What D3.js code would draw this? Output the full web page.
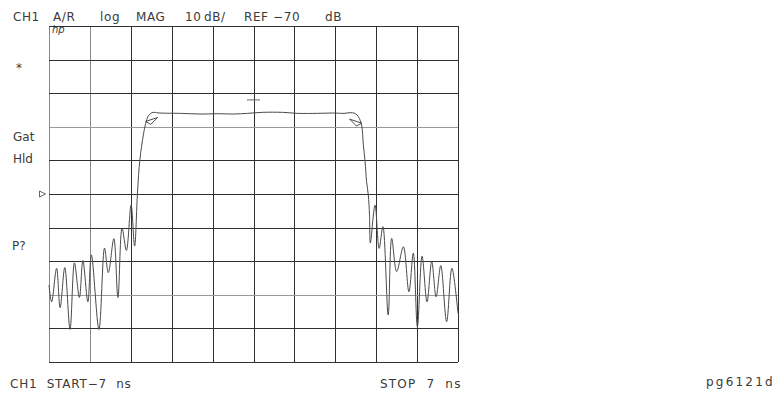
<!DOCTYPE html>
<html>
<head>
<meta charset="utf-8">
<script src="https://cdn.jsdelivr.net/npm/d3@7"></script>
<style>
  html, body { margin: 0; padding: 0; background: #fff; }
  svg { display: block; }
  text { font-family: "DejaVu Sans", sans-serif; fill: #3a3a3a; }
</style>
</head>
<body>
<script>
// ---- data ----
const timeNs = [
  -7.00, -6.91, -6.74, -6.62, -6.46, -6.28, -6.13, -5.96, -5.84, -5.67,
  -5.55, -5.29, -5.10, -4.97, -4.78, -4.64, -4.50, -4.35, -4.19, -4.07,
  -3.97, -3.89, -3.77, -3.69, -3.61, -3.48, -3.40, -3.20, -2.50, -1.80,
  -1.20, -0.70, -0.20, 0.30, 1.00, 1.50, 2.20, 2.70, 3.10, 3.30,
  3.47, 3.59, 3.70, 3.76, 3.82, 3.87, 3.93, 3.97, 4.00, 4.16,
  4.30, 4.43, 4.61, 4.73, 4.90, 5.13, 5.32, 5.47, 5.61, 5.77,
  5.94, 6.10, 6.25, 6.41, 6.61, 6.79, 7.00
];
const magDb = [
  -97.1, -102.1, -92.1, -103.8, -91.9, -110.3, -90.5, -100.8, -89.8, -102.1,
  -88.1, -110.3, -86.1, -93.4, -83.3, -100.8, -80.2, -86.8, -73.3, -85.5,
  -69.4, -59.9, -52.4, -49.0, -46.9, -45.8, -45.7, -45.9, -46.0, -46.2,
  -46.1, -46.2, -46.0, -45.7, -45.7, -46.0, -46.0, -45.9, -46.0, -45.8,
  -46.0, -47.0, -49.5, -55.4, -60.4, -66.3, -70.3, -76.2, -84.6, -73.3,
  -86.2, -79.7, -106.0, -83.2, -93.1, -85.7, -99.1, -87.6, -109.5, -88.5,
  -102.1, -90.1, -100.6, -91.3, -108.0, -92.1, -105.5
];
const xTicks = [-7, -5.6, -4.2, -2.8, -1.4, 0, 1.4, 2.8, 4.2, 5.6, 7];
const yTicks = [-120, -110, -100, -90, -80, -70, -60, -50, -40, -30, -20];
const refLevel = -70;
const markerTimes = [-3.69, 3.70];
const markerMags = [-49.0, -49.5];
const centerMarker = { t: 0, db: -42.0 };
const headerTokens = ["CH1", "A/R", "log", "MAG", "10", "dB/", "REF", "\u221270", "dB"];
const sideLabels = ["*", "Gat", "Hld", "P?"];
const startLabel = "CH1  START\u22127  ns";
const stopLabel = "STOP  7  ns";
const figId = "pg6121d";

// ---- layout ----
const W = 781, H = 396;
const L = 49, R = 458, T = 26, B = 362;

const svg = d3.select("body").append("svg").attr("width", W).attr("height", H);

const x = d3.scaleLinear().domain([-7, 7]).range([L, R]);
const y = d3.scaleLinear().domain([-120, -20]).range([B, T]);

// grid via axes
const gx = svg.append("g").attr("transform", `translate(0,${B})`)
  .call(d3.axisBottom(x).tickValues(xTicks).tickSize(-(B - T)).tickFormat(""));
const gy = svg.append("g").attr("transform", `translate(${L},0)`)
  .call(d3.axisLeft(y).tickValues(yTicks).tickSize(-(R - L)).tickFormat(""));
[gx, gy].forEach(g => { g.select(".domain").remove(); });
gx.selectAll(".tick line").attr("stroke", (d, i) => (i === 0 || i === 1) ? "#8a8a8a" : "#303030").attr("stroke-width", 1);
gy.selectAll(".tick line").attr("stroke", d => (d === -50 || d === -100) ? "#9a9a9a" : "#303030").attr("stroke-width", 1);
gx.selectAll(".tick line").attr("shape-rendering", "crispEdges");
gy.selectAll(".tick line").attr("shape-rendering", "crispEdges");

// trace
const line = d3.line().x((d, i) => x(timeNs[i])).y((d, i) => y(magDb[i])).curve(d3.curveCatmullRom.alpha(0.5));
svg.append("path").datum(magDb).attr("d", line)
  .attr("fill", "none").attr("stroke", "#4a4a4a").attr("stroke-width", 1);

// markers (small triangles at band edges)
markerTimes.forEach((t, i) => {
  const px = x(t), py = y(markerMags[i]);
  const s = i === 0 ? 1 : -1;
  svg.append("path")
    .attr("d", `M${px},${py - 2}L${px + s * 12},${py - 6}L${px + s * 5},${py + 1}Z`)
    .attr("fill", "none").attr("stroke", "#4a4a4a").attr("stroke-width", 1);
});
// center marker dash
svg.append("line")
  .attr("x1", x(centerMarker.t) - 6.5).attr("x2", x(centerMarker.t) + 6.5)
  .attr("y1", y(centerMarker.db)).attr("y2", y(centerMarker.db))
  .attr("stroke", "#666").attr("stroke-width", 1);

// reference position marker
const ry = y(refLevel);
svg.append("path")
  .attr("d", `M39.5,${ry - 3}L45.5,${ry}L39.5,${ry + 3}Z`)
  .attr("fill", "none").attr("stroke", "#555").attr("stroke-width", 0.9);

// header text
const headerX = [13, 53, 100, 136, 185, 204, 244, 273, 325];
headerTokens.forEach((tk, i) => {
  svg.append("text").attr("x", headerX[i]).attr("y", 21)
    .attr("font-size", 12).attr("letter-spacing", 0.6)
    .text(tk);
});

// hp logo
svg.append("text").attr("x", 52).attr("y", 33).attr("font-size", 10).attr("font-style", "italic").text("hp");

// side labels
const sideX = [16, 13, 13, 12];
const sideY = [72, 141, 163, 250];
sideLabels.forEach((s, i) => {
  svg.append("text").attr("x", sideX[i]).attr("y", sideY[i]).attr("font-size", 12).text(s);
});

// bottom labels
svg.append("text").attr("x", 10).attr("y", 388).attr("font-size", 12).attr("letter-spacing", 0.8).style("white-space", "pre").text(startLabel);
svg.append("text").attr("x", 380).attr("y", 388).attr("font-size", 12).attr("letter-spacing", 1.2).style("white-space", "pre").text(stopLabel);
svg.append("text").attr("x", 706).attr("y", 386).attr("font-size", 12).attr("letter-spacing", 2.2).text(figId);
</script>
</body>
</html>
